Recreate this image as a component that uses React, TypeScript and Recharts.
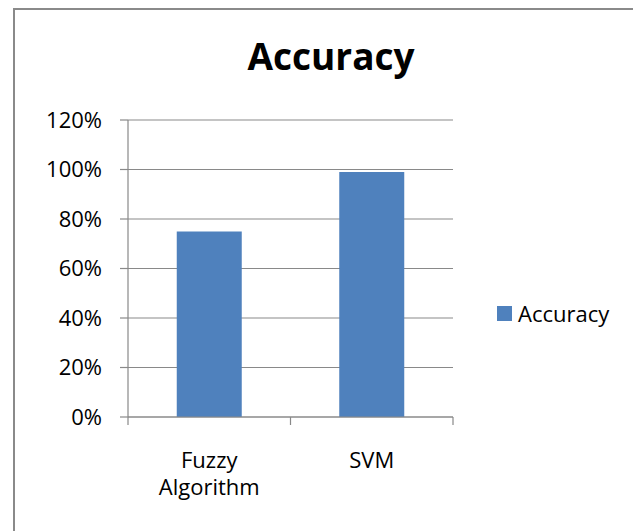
import React from "react";
import { BarChart, Bar, XAxis, YAxis, CartesianGrid, Legend } from "recharts";

const categories = ["Fuzzy\nAlgorithm", "SVM"];
const accuracy = [0.75, 0.99];
const yTicks = [0, 0.2, 0.4, 0.6, 0.8, 1.0, 1.2];

const data = categories.map((name, i) => ({ name, accuracy: accuracy[i] }));

const FONT = "'Open Sans', sans-serif";
const GRAY = "#898989";
const BLUE = "#4F81BD";

// Excel style: tick marks sit between categories, not under them
function CategoryTick(props: any) {
  const { x, y, payload, index, width, visibleTicksCount } = props;
  const count = visibleTicksCount || categories.length;
  const half = (width ? width / count : 162.5) / 2;
  const lines = String(payload.value).split("\n");
  return (
    <g>
      <line x1={x - half} x2={x - half} y1={y - 8} y2={y} stroke={GRAY} strokeWidth={1.2} />
      {index === count - 1 && (
        <line x1={x + half} x2={x + half} y1={y - 8} y2={y} stroke={GRAY} strokeWidth={1.2} />
      )}
      <text x={x} y={y} textAnchor="middle" fontFamily={FONT} fontSize={22} fill="#000">
        {lines.map((line, i) => (
          <tspan key={i} x={x} dy={i === 0 ? 43 : 27}>
            {line}
          </tspan>
        ))}
      </text>
    </g>
  );
}

function LegendBox() {
  return (
    <div style={{ display: "flex", alignItems: "center", fontFamily: FONT, fontSize: 22, color: "#000" }}>
      <span style={{ width: 15, height: 15, background: BLUE, display: "inline-block", marginRight: 6 }} />
      <span>Accuracy</span>
    </div>
  );
}

export default function App() {
  return (
    <div style={{ position: "relative", width: 633, height: 523, overflow: "hidden", background: "#fff" }}>
      <div
        style={{
          position: "absolute",
          left: 5,
          top: 0,
          width: 625,
          height: 540,
          borderLeft: "2px solid #8a8a8a",
          borderTop: "2px solid #8a8a8a",
          borderRight: "1px solid #d6d6d6",
        }}
      />
      <div
        style={{
          position: "absolute",
          left: 0,
          top: 29,
          width: 646,
          textAlign: "center",
          fontFamily: FONT,
          fontWeight: 700,
          fontSize: 37,
          lineHeight: "37px",
          color: "#000",
        }}
      >
        Accuracy
      </div>
      <div style={{ position: "absolute", left: 0, top: 0 }}>
        <BarChart
          width={633}
          height={523}
          data={data}
          margin={{ top: 112, right: 48, bottom: 54, left: 50 }}
          barCategoryGap="30%"
        >
          <CartesianGrid vertical={false} stroke={GRAY} strokeWidth={1.2} />
          <XAxis
            dataKey="name"
            height={60}
            tickSize={8}
            tickMargin={0}
            axisLine={{ stroke: GRAY, strokeWidth: 1.2 }}
            tickLine={{ stroke: "none" }}
            tick={<CategoryTick />}
            interval={0}
          />
          <YAxis
            width={70}
            domain={[0, 1.2]}
            ticks={yTicks}
            tickSize={8}
            tickMargin={18}
            axisLine={{ stroke: GRAY, strokeWidth: 1.2 }}
            tickLine={{ stroke: GRAY, strokeWidth: 1.2 }}
            tick={{ fontFamily: FONT, fontSize: 22, fill: "#000" }}
            tickFormatter={(v: number) => `${Math.round(v * 100)}%`}
          />
          <Legend
            layout="horizontal"
            verticalAlign="middle"
            align="right"
            content={<LegendBox />}
            wrapperStyle={{ left: 489, top: 290, width: 140 }}
          />
          <Bar dataKey="accuracy" fill={BLUE} isAnimationActive={false} />
        </BarChart>
      </div>
    </div>
  );
}
